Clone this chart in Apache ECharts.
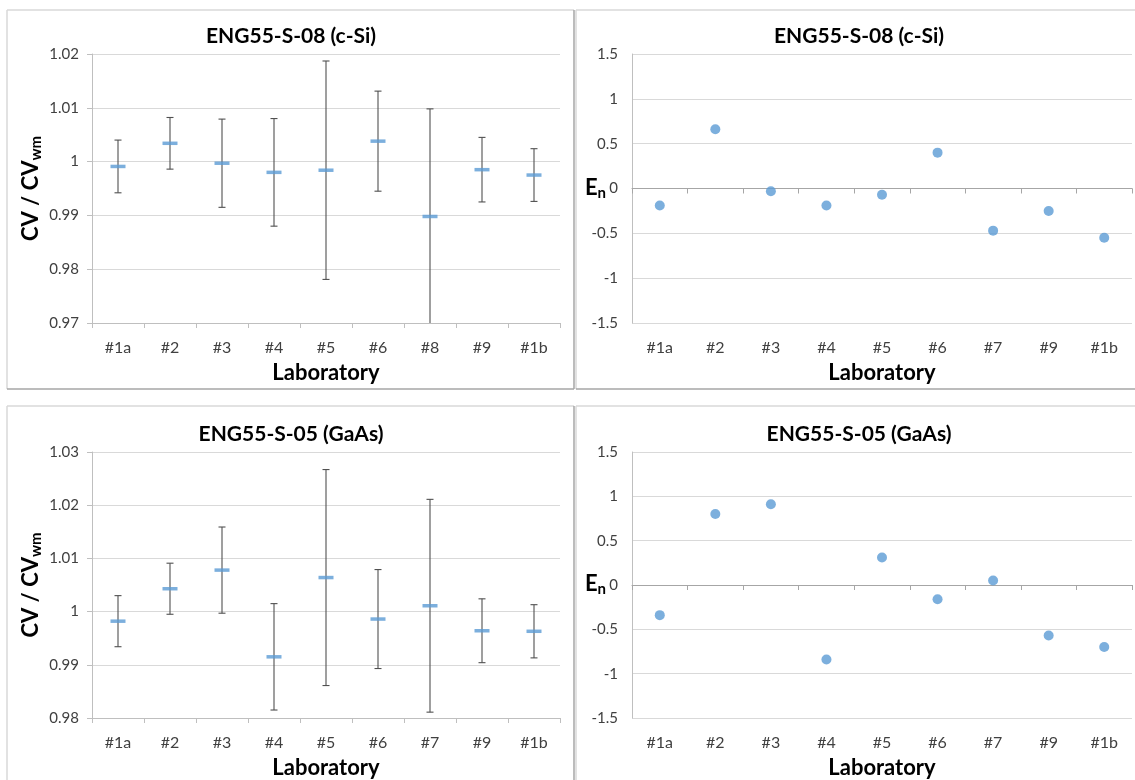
<!DOCTYPE html>
<html>
<head>
<meta charset="utf-8">
<script src="https://cdn.jsdelivr.net/npm/echarts@6/dist/echarts.min.js"></script>
<style>
  html, body { margin: 0; padding: 0; background: #fff; }
  #chart { width: 1135px; height: 780px; }
</style>
</head>
<body>
<div id="chart"></div>
<script>
// Laboratories per panel
const labsCvCSi = ['#1a', '#2', '#3', '#4', '#5', '#6', '#8', '#9', '#1b'];
const labsEnCSi = ['#1a', '#2', '#3', '#4', '#5', '#6', '#7', '#9', '#1b'];
const labsCvGaAs = ['#1a', '#2', '#3', '#4', '#5', '#6', '#7', '#9', '#1b'];
const labsEnGaAs = ['#1a', '#2', '#3', '#4', '#5', '#6', '#7', '#9', '#1b'];

// ENG55-S-08 (c-Si): CV / CVwm ratio and expanded uncertainty
const cvCSi = [0.9991, 1.0034, 0.9997, 0.9980, 0.9984, 1.0038, 0.9898, 0.9985, 0.9975];
const uCSi = [0.0049, 0.0048, 0.0082, 0.0100, 0.0203, 0.0093, 0.0200, 0.0060, 0.0049];
// ENG55-S-08 (c-Si): En numbers
const enCSi = [-0.19, 0.66, -0.03, -0.19, -0.07, 0.40, -0.47, -0.25, -0.55];

// ENG55-S-05 (GaAs): CV / CVwm ratio and expanded uncertainty
const cvGaAs = [0.9982, 1.0043, 1.0078, 0.9915, 1.0064, 0.9986, 1.0011, 0.9964, 0.9963];
const uGaAs = [0.0048, 0.0048, 0.0081, 0.0100, 0.0203, 0.0093, 0.0200, 0.0060, 0.0050];
// ENG55-S-05 (GaAs): En numbers
const enGaAs = [-0.34, 0.80, 0.91, -0.84, 0.31, -0.16, 0.05, -0.57, -0.70];

const titleCSi = 'ENG55-S-08 (c-Si)';
const titleGaAs = 'ENG55-S-05 (GaAs)';

const FONT = 'Lato, "Open Sans", "Noto Sans", sans-serif';
const BLUE = '#5b9bd5';
const GRID_LINE = '#d9d9d9';
const AXIS_LINE = '#bfbfbf';
const LABEL = '#404040';

const chart = echarts.init(document.getElementById('chart'), null, { renderer: 'canvas' });

// Vertical error bar with caps, clamped to the plot rectangle
function errorBar(params, api) {
  const x = api.value(0), y = api.value(1), u = api.value(2);
  const hi = api.coord([x, y + u]);
  const lo = api.coord([x, y - u]);
  const cs = params.coordSys;
  const top = cs.y, bottom = cs.y + cs.height;
  const cap = 3.5;
  const style = { stroke: '#505050', lineWidth: 1.1 };
  const y1 = Math.max(hi[1], top), y2 = Math.min(lo[1], bottom);
  const children = [
    { type: 'line', shape: { x1: hi[0], y1: y1, x2: lo[0], y2: y2 }, style: style }
  ];
  if (hi[1] >= top) children.push({ type: 'line', shape: { x1: hi[0] - cap, y1: hi[1], x2: hi[0] + cap, y2: hi[1] }, style: style });
  if (lo[1] <= bottom) children.push({ type: 'line', shape: { x1: lo[0] - cap, y1: lo[1], x2: lo[0] + cap, y2: lo[1] }, style: style });
  return { type: 'group', children: children };
}

const subRich = {
  m: { fontSize: 22, fontWeight: 'bold', color: '#000', fontFamily: FONT, lineHeight: 24, verticalAlign: 'top' },
  s: { fontSize: 15, fontWeight: 'bold', color: '#000', fontFamily: FONT, lineHeight: 15, verticalAlign: 'bottom', padding: [11, 0, 0, 0] }
};

function ratioAxisY(gridIndex, min, max) {
  return {
    type: 'value', gridIndex: gridIndex, min: min, max: max, interval: 0.01,
    name: '{m|CV / CV}{s|wm}', nameLocation: 'middle', nameRotate: 90, nameGap: 48,
    nameMoveOverlap: false,
    nameTextStyle: { rich: subRich },
    axisLine: { show: true, lineStyle: { color: AXIS_LINE } },
    axisTick: { show: true, length: 5, lineStyle: { color: AXIS_LINE } },
    axisLabel: { color: LABEL, fontSize: 15, fontFamily: FONT, margin: 13 },
    splitLine: { show: true, lineStyle: { color: GRID_LINE } }
  };
}

function enAxisY(gridIndex) {
  return {
    type: 'value', gridIndex: gridIndex, min: -1.5, max: 1.5, interval: 0.5,
    name: '{m|E}{s|n}', nameLocation: 'middle', nameRotate: 0, nameGap: 26,
    nameMoveOverlap: false,
    nameTextStyle: { rich: subRich },
    axisLine: { show: true, lineStyle: { color: AXIS_LINE } },
    axisTick: { show: false },
    axisLabel: { color: LABEL, fontSize: 15, fontFamily: FONT, margin: 14 },
    splitLine: { show: true, lineStyle: { color: GRID_LINE } }
  };
}

function labAxisX(gridIndex, labs, showLine) {
  return {
    type: 'category', gridIndex: gridIndex, data: labs,
    name: 'Laboratory', nameLocation: 'middle', nameGap: 39,
    nameMoveOverlap: false,
    nameTextStyle: { fontSize: 22, fontWeight: 'bold', color: '#000', fontFamily: FONT },
    axisLine: { show: showLine, onZero: false, lineStyle: { color: AXIS_LINE } },
    axisTick: { show: showLine, length: 5, lineStyle: { color: AXIS_LINE } },
    axisLabel: { color: LABEL, fontSize: 16, fontFamily: FONT, margin: 17, interval: 0 },
    splitLine: { show: false }
  };
}

// Axis line drawn through En = 0 with ticks between laboratories
function zeroAxisX(gridIndex, labs) {
  return {
    type: 'category', gridIndex: gridIndex, data: labs, position: 'bottom',
    axisLine: { show: true, onZero: true, lineStyle: { color: '#a6a6a6' } },
    axisTick: { show: true, length: 5, lineStyle: { color: '#a6a6a6' } },
    axisLabel: { show: false },
    splitLine: { show: false }
  };
}

function panelTitle(text, x, y) {
  return {
    text: text, left: x, top: y, textAlign: 'center', padding: 0,
    textStyle: { fontSize: 21, fontWeight: 'bold', color: '#000', fontFamily: FONT, lineHeight: 24 }
  };
}

// Panel frames: lighter top/left edges, darker right/bottom edges
function frame(x1, y1, x2, y2) {
  const light = { stroke: '#d9d9d9', lineWidth: 1.5 };
  const dark = { stroke: '#a6a6a6', lineWidth: 1.5 };
  return [
    { type: 'line', shape: { x1: x1, y1: y1, x2: x2, y2: y1 }, style: light, silent: true },
    { type: 'line', shape: { x1: x1, y1: y1, x2: x1, y2: y2 }, style: light, silent: true },
    { type: 'line', shape: { x1: x2, y1: y1, x2: x2, y2: y2 }, style: dark, silent: true },
    { type: 'line', shape: { x1: x1, y1: y2, x2: x2, y2: y2 }, style: dark, silent: true }
  ];
}

const option = {
  animation: false,
  backgroundColor: '#fff',
  title: [
    panelTitle(titleCSi, 291, 24),
    panelTitle(titleCSi, 859, 24),
    panelTitle(titleGaAs, 291, 422),
    panelTitle(titleGaAs, 859, 422)
  ],
  graphic: [].concat(
    frame(7, 10, 574, 389),
    frame(576, 10, 1145, 389),
    frame(7, 406, 574, 795),
    frame(576, 406, 1145, 795)
  ),
  grid: [
    { left: 92, top: 54, width: 468, height: 269 },
    { left: 632, top: 54, width: 500, height: 269 },
    { left: 92, top: 452, width: 468, height: 268 },
    { left: 632, top: 452, width: 500, height: 268 }
  ],
  xAxis: [
    labAxisX(0, labsCvCSi, true),
    labAxisX(1, labsEnCSi, false),
    zeroAxisX(1, labsEnCSi),
    labAxisX(2, labsCvGaAs, true),
    labAxisX(3, labsEnGaAs, false),
    zeroAxisX(3, labsEnGaAs)
  ],
  yAxis: [
    ratioAxisY(0, 0.97, 1.02),
    enAxisY(1),
    ratioAxisY(2, 0.98, 1.03),
    enAxisY(3)
  ],
  series: [
    {
      type: 'custom', xAxisIndex: 0, yAxisIndex: 0, renderItem: errorBar,
      data: cvCSi.map((v, i) => [i, v, uCSi[i]]), z: 2, silent: true
    },
    {
      type: 'scatter', xAxisIndex: 0, yAxisIndex: 0, symbol: 'rect', symbolSize: [15, 3.5],
      itemStyle: { color: BLUE }, data: cvCSi.map((v, i) => [i, v]), z: 3
    },
    {
      type: 'scatter', xAxisIndex: 1, yAxisIndex: 1, symbol: 'circle', symbolSize: 10,
      itemStyle: { color: BLUE }, data: enCSi.map((v, i) => [i, v]), z: 3
    },
    {
      type: 'custom', xAxisIndex: 3, yAxisIndex: 2, renderItem: errorBar,
      data: cvGaAs.map((v, i) => [i, v, uGaAs[i]]), z: 2, silent: true
    },
    {
      type: 'scatter', xAxisIndex: 3, yAxisIndex: 2, symbol: 'rect', symbolSize: [15, 3.5],
      itemStyle: { color: BLUE }, data: cvGaAs.map((v, i) => [i, v]), z: 3
    },
    {
      type: 'scatter', xAxisIndex: 4, yAxisIndex: 3, symbol: 'circle', symbolSize: 10,
      itemStyle: { color: BLUE }, data: enGaAs.map((v, i) => [i, v]), z: 3
    }
  ]
};

chart.setOption(option);
</script>
</body>
</html>
